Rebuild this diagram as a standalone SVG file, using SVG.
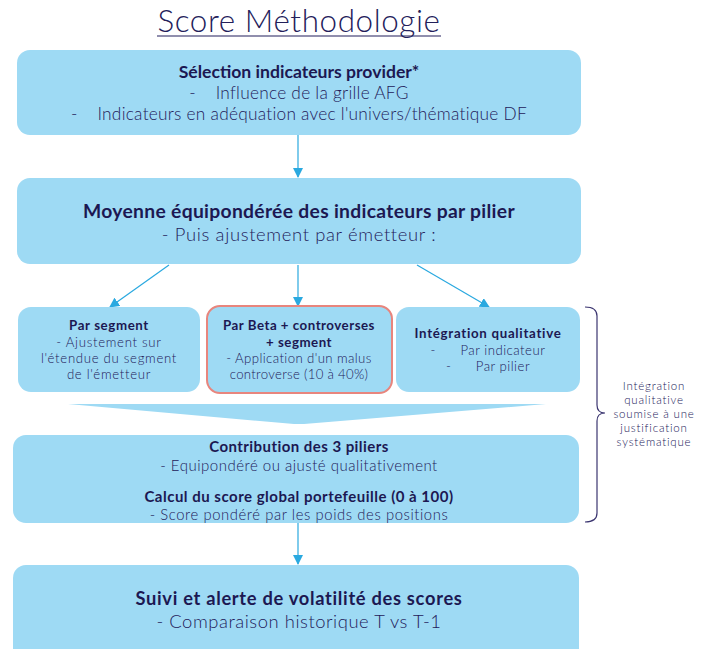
<svg xmlns="http://www.w3.org/2000/svg" width="705" height="649" viewBox="0 0 705 649">
<defs>
<style>
.box{fill:#9edaf4;}
.t{font-family:Lato,"Open Sans","Liberation Sans",sans-serif;fill:#23205a;text-anchor:middle;}
.r{font-weight:300;}
.b{font-weight:bold;fill:#1c1852;}
.c{stroke:#2aa9e0;stroke-width:1.2;fill:none;marker-end:url(#ah);}
</style>
<marker id="ah" viewBox="0 0 10 10" refX="9" refY="5" markerWidth="10" markerHeight="10" markerUnits="userSpaceOnUse" orient="auto">
<path d="M0,0 L10,5 L0,10 z" fill="#2aa9e0"/>
</marker>
</defs>
<rect width="705" height="649" fill="#ffffff"/>
<g id="title">
<text class="t r" x="299" y="32" font-size="31.4" fill="#231f5c" letter-spacing="0.6">Score Méthodologie</text>
<line x1="157" y1="36" x2="441" y2="36" stroke="#231f5c" stroke-width="1.2"/>
</g>
<g id="connectors">
<path class="c" d="M298,134 L298,177"/>
<path class="c" d="M169,265 L110,307"/>
<path class="c" d="M298,265 L298,306"/>
<path class="c" d="M417,265 L489,307"/>
<path class="c" d="M298,523 L298,564"/>
</g>
<g id="n1">
<rect class="box" x="17" y="50" width="564" height="85" rx="13"/>
<text class="t b" x="299" y="78" font-size="17.6">Sélection indicateurs provider*</text>
<text class="t r" x="299" y="99" font-size="17.3" letter-spacing="0.25" xml:space="preserve">-    Influence de la grille AFG</text>
<text class="t r" x="299" y="120" font-size="17.3" letter-spacing="0.25" xml:space="preserve">-    Indicateurs en adéquation avec l'univers/thématique DF</text>
</g>
<g id="n2">
<rect class="box" x="17" y="178" width="564" height="86" rx="13"/>
<text class="t b" x="299" y="218" font-size="19.3" letter-spacing="0.3">Moyenne équipondérée des indicateurs par pilier</text>
<text class="t r" x="299" y="241" font-size="18.4" letter-spacing="0.65">- Puis ajustement par émetteur :</text>
</g>
<g id="n3">
<rect class="box" x="18" y="307" width="182" height="85" rx="13"/>
<text class="t b" x="109" y="330" font-size="13.3" letter-spacing="0.6">Par segment</text>
<text class="t r" x="109" y="347" font-size="13.2" letter-spacing="0.7">- Ajustement sur</text>
<text class="t r" x="109" y="363" font-size="13.2" letter-spacing="0.7">l'étendue du segment</text>
<text class="t r" x="109" y="379" font-size="13.2" letter-spacing="0.7">de l'émetteur</text>
</g>
<g id="n4">
<rect class="box" x="207" y="306" width="185" height="87" rx="13" stroke="#e8857d" stroke-width="2"/>
<text class="t b" x="299" y="330" font-size="13.3" letter-spacing="0.5">Par Beta + controverses</text>
<text class="t b" x="299" y="347" font-size="13.3" letter-spacing="0.5">+ segment</text>
<text class="t r" x="299" y="363" font-size="13.2" letter-spacing="0.4">- Application d'un malus</text>
<text class="t r" x="299" y="379" font-size="13.2" letter-spacing="0.3">controverse (10 à 40%)</text>
</g>
<g id="n5">
<rect class="box" x="396" y="307" width="184" height="85" rx="13"/>
<text class="t b" x="488" y="338" font-size="13.3" letter-spacing="0.7">Intégration qualitative</text>
<text class="t r" x="488" y="355" font-size="13.2" letter-spacing="0.5" xml:space="preserve">-      Par indicateur</text>
<text class="t r" x="488" y="371" font-size="13.2" letter-spacing="0.5" xml:space="preserve">-      Par pilier</text>
</g>
<g id="funnel">
<polygon points="68,404 546,404 304,424 294,424" fill="#9edaf4"/>
</g>
<g id="n6">
<rect class="box" x="13" y="435" width="566" height="88" rx="13"/>
<text class="t b" x="299" y="452" font-size="15" letter-spacing="0.45">Contribution des 3 piliers</text>
<text class="t r" x="299" y="471" font-size="15" letter-spacing="0.5">- Equipondéré ou ajusté qualitativement</text>
<text class="t b" x="299" y="502" font-size="15" letter-spacing="0.5">Calcul du score global portefeuille (0 à 100)</text>
<text class="t r" x="299" y="520" font-size="14.8" letter-spacing="0.6">- Score pondéré par les poids des positions</text>
</g>
<g id="n7">
<rect class="box" x="13" y="565" width="566" height="100" rx="13"/>
<text class="t b" x="299" y="605" font-size="18.3" letter-spacing="0.7">Suivi et alerte de volatilité des scores</text>
<text class="t r" x="299" y="628" font-size="18.4" letter-spacing="0.55">- Comparaison historique T vs T-1</text>
</g>
<g id="brace">
<path d="M585,307 Q597,307 597,316 L597,405 Q597,413 605,413 Q597,413 597,421 L597,513 Q597,522 585,522" fill="none" stroke="#3b3570" stroke-width="1.2"/>
<text class="t r" x="654" y="390" font-size="11.5" letter-spacing="0.8" fill="#3b3868">Intégration</text>
<text class="t r" x="654" y="404" font-size="11.5" letter-spacing="0.8" fill="#3b3868">qualitative</text>
<text class="t r" x="654" y="418" font-size="11.5" letter-spacing="0.8" fill="#3b3868">soumise à une</text>
<text class="t r" x="654" y="432" font-size="11.5" letter-spacing="0.8" fill="#3b3868">justification</text>
<text class="t r" x="654" y="446" font-size="11.5" letter-spacing="0.8" fill="#3b3868">systématique</text>
</g>
</svg>
